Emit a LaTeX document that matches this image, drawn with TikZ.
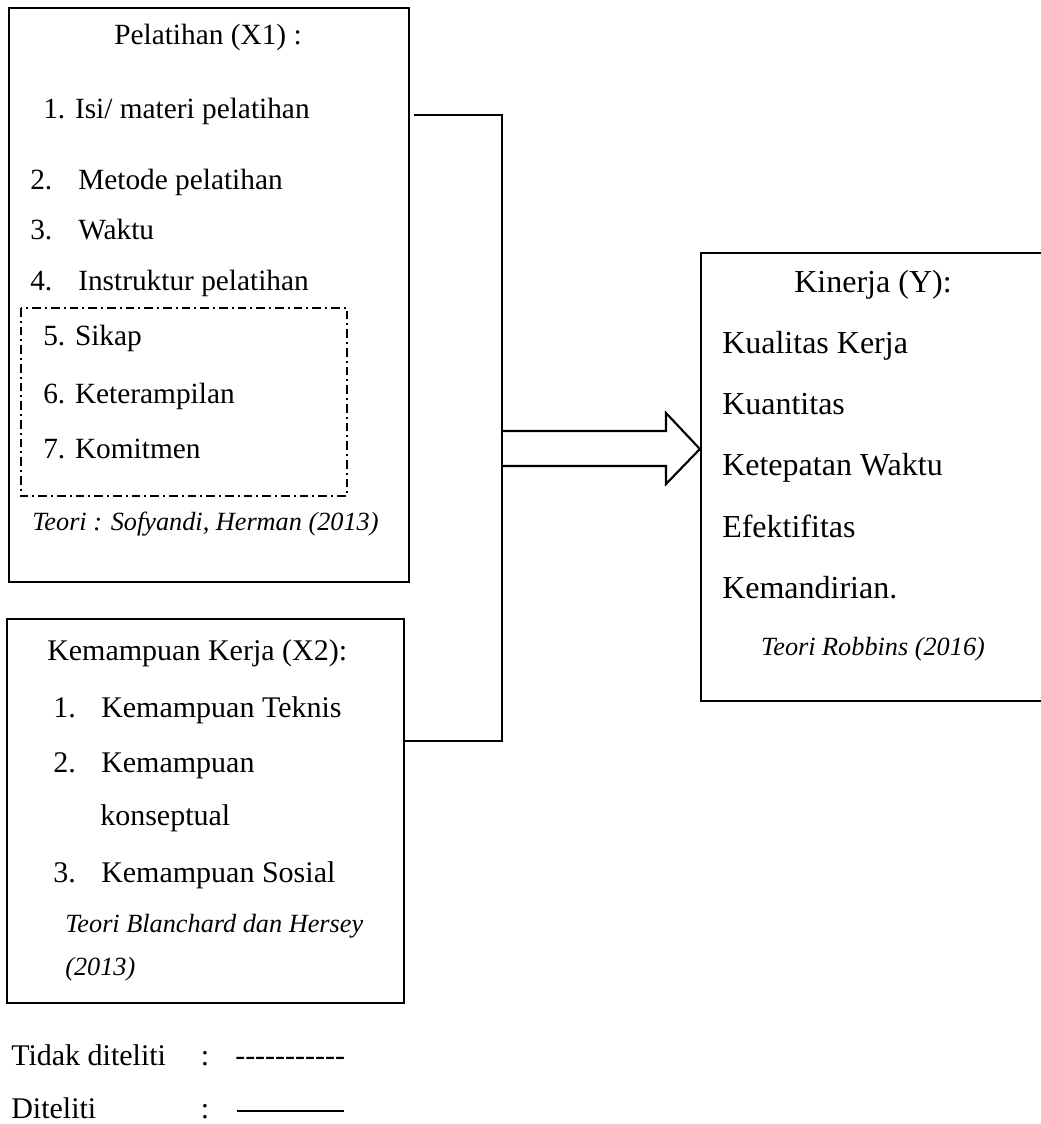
\documentclass[tikz,border=0pt]{standalone}
\usepackage{fontspec}
\setmainfont{Liberation Serif}
\usetikzlibrary{positioning}
\newcommand{\pxl}{0.75pt}
\newcommand{\fsa}{\fontsize{22}{26}\selectfont}
\newcommand{\fsb}{\fontsize{22.5}{27}\selectfont}
\newcommand{\fsc}{\fontsize{24}{28}\selectfont}
\newcommand{\fst}{\fontsize{19.7}{24}\selectfont\itshape}
\newcommand{\nr}[1]{\makebox[36pt][l]{#1}}
\tikzset{
  box/.style 2 args={draw,line width=1.7pt,inner sep=0pt,minimum width={#1*\pxl},minimum height={#2*\pxl}},
  txt/.style={inner sep=0pt,anchor=base west},
  ctxt/.style={inner sep=0pt,anchor=base},
  link/.style={line width=1.2pt},
  bigarrow/.style={line width=1.6pt,line join=miter},
  dashdot/.style={line width=1.7pt,dash pattern=on 6.5pt off 3pt on 1.5pt off 3pt}
}
\begin{document}
\begin{tikzpicture}[x=\pxl,y=-\pxl]
\useasboundingbox (0,0) rectangle (1041,1124);
% boxes
\node[box={400}{574}] (pelatihan) at (209,295) {};
\node[box={397}{384}] (kemampuan) at (205.5,811) {};
\node[box={342}{448}] (kinerja) at (872,477) {};
\draw[dashdot] (21,308) rectangle (347,496);
% Pelatihan (X1)
\node[ctxt,font=\fsa] (p0) at (208,45) {Pelatihan (X1) :};
\node[txt,font=\fsa] (p1) at (43,118) {1. Isi/ materi pelatihan};
\node[txt,font=\fsa] (p2) at (30,189) {\nr{2.}Metode pelatihan};
\node[txt,font=\fsa] (p3) at (30,239) {\nr{3.}Waktu};
\node[txt,font=\fsa] (p4) at (30,290) {\nr{4.}Instruktur pelatihan};
\node[txt,font=\fsa] (p5) at (43,345) {5. Sikap};
\node[txt,font=\fsa] (p6) at (43,403) {6. Keterampilan};
\node[txt,font=\fsa] (p7) at (43,458) {7. Komitmen};
\node[txt,font=\fst] (pt) at (32,530) {Teori : Sofyandi, Herman (2013)};
% Kemampuan Kerja (X2)
\node[txt,font=\fsb] (k0) at (47,660) {Kemampuan Kerja (X2):};
\node[txt,font=\fsb] (k1) at (53,717) {\nr{1.}Kemampuan Teknis};
\node[txt,font=\fsb] (k2) at (53,772) {\nr{2.}Kemampuan};
\node[txt,font=\fsb] (k2b) at (100,825) {konseptual};
\node[txt,font=\fsb] (k3) at (53,882) {\nr{3.}Kemampuan Sosial};
\node[txt,font=\fst] (kt) at (65,932) {Teori Blanchard dan Hersey};
\node[txt,font=\fst] (kt2) at (65,975) {(2013)};
% Kinerja (Y)
\node[ctxt,font=\fsc] (y0) at (873,292) {Kinerja (Y):};
\node[txt,font=\fsc] (y1) at (722,353) {Kualitas Kerja};
\node[txt,font=\fsc] (y2) at (722,414) {Kuantitas};
\node[txt,font=\fsc] (y3) at (722,475) {Ketepatan Waktu};
\node[txt,font=\fsc] (y4) at (722,537) {Efektifitas};
\node[txt,font=\fsc] (y5) at (722,598) {Kemandirian.};
\node[ctxt,font=\fst] (yt) at (873,655) {Teori Robbins (2016)};
% connectors
\coordinate (j1) at (502,115);
\coordinate (j2) at (502,741);
\coordinate (tip) at (701,449);
\draw[link] ([xshift=3pt]pelatihan.east |- j1) -- (j1) -- (j2) -- (kemampuan.east |- j2);
\draw[bigarrow] (502,431) -- (666,431) -- (666,413) -- (kinerja.west |- tip) -- (666,484) -- (666,466) -- (502,466);
% legend
\node[txt,font=\fsb] (l1) at (11,1065) {Tidak diteliti};
\node[ctxt,font=\fsb] (l1c) at (205,1065) {:};
\node[txt,font=\fsb] (l1d) at (235,1065) {-{}-{}-{}-{}-{}-{}-{}-{}-{}-{}-};
\node[txt,font=\fsb] (l2) at (11,1118) {Diteliti};
\node[ctxt,font=\fsb] (l2c) at (205,1118) {:};
\coordinate (s1) at (237,1111);
\coordinate (s2) at (344,1111);
\draw[link] (s1) -- (s2);
\end{tikzpicture}
\end{document}
